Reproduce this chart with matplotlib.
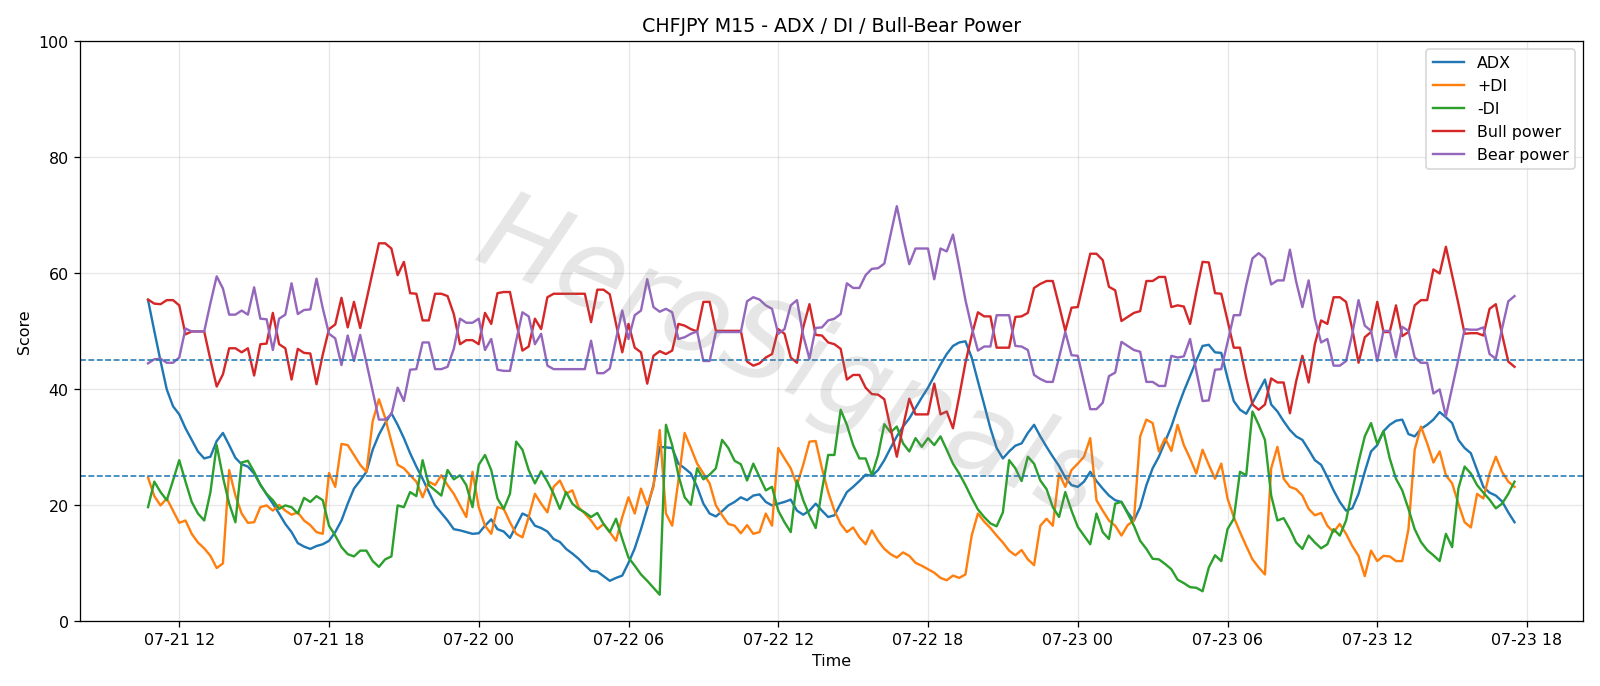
import matplotlib

matplotlib.use("Agg")
import matplotlib.dates as mdates
import matplotlib.pyplot as plt
import pandas as pd

# CHFJPY M15 bars, 07-21 10:45 -> 07-23 17:30
start_time = "2025-07-21 10:45"
n_bars = 220

adx = [
    55.4, 50.1, 44.9, 40.0, 37.1, 35.7, 33.3, 31.3, 29.3, 28.1, 28.4, 31.1, 32.5, 30.4, 28.2, 27.1, 26.7, 25.5, 23.6, 21.9,
    20.3, 18.6, 16.8, 15.4, 13.5, 12.9, 12.5, 13.0, 13.3, 13.9, 15.4, 17.4, 20.3, 22.9, 24.3, 25.8, 29.6, 32.2, 34.2, 35.9,
    33.9, 31.6, 29.0, 26.7, 24.6, 22.3, 20.0, 18.7, 17.4, 15.9, 15.7, 15.4, 15.1, 15.2, 16.5, 17.6, 15.9, 15.5, 14.4, 16.5,
    18.6, 18.1, 16.5, 16.1, 15.5, 14.2, 13.7, 12.5, 11.7, 10.8, 9.7, 8.7, 8.6, 7.8, 7.0, 7.5, 7.9, 10.1, 12.6, 15.9,
    19.5, 23.5, 30.1, 30.0, 29.9, 27.2, 26.4, 25.5, 23.2, 20.3, 18.6, 18.1, 19.0, 20.0, 20.6, 21.4, 20.9, 21.7, 21.9, 20.6,
    20.0, 20.3, 20.6, 21.0, 19.1, 18.4, 19.1, 20.3, 19.1, 18.0, 18.3, 20.3, 22.3, 23.2, 24.2, 25.3, 25.1, 26.1, 27.8, 29.9,
    31.9, 33.6, 35.0, 36.8, 38.6, 40.3, 42.3, 44.3, 46.1, 47.5, 48.1, 48.3, 45.5, 41.4, 37.4, 33.3, 29.9, 28.1, 29.3, 30.3,
    30.7, 32.5, 33.9, 31.9, 30.1, 28.4, 26.8, 24.8, 23.5, 23.2, 24.1, 25.8, 24.2, 22.9, 21.7, 20.9, 20.6, 18.8, 17.4, 19.7,
    23.5, 26.4, 28.4, 31.0, 33.6, 36.8, 39.7, 42.3, 45.0, 47.5, 47.7, 46.4, 46.3, 42.0, 38.0, 36.5, 35.8, 37.7, 39.7, 41.7,
    37.4, 36.2, 34.5, 33.0, 31.9, 31.3, 29.6, 27.8, 27.0, 24.9, 22.6, 20.6, 19.1, 19.5, 22.0, 25.8, 29.3, 30.4, 32.8, 33.9,
    34.6, 34.8, 32.3, 31.9, 33.2, 33.9, 34.8, 36.1, 35.2, 34.2, 31.3, 29.9, 29.0, 26.1, 23.2, 22.2, 21.7, 20.7, 18.8, 17.1,
]

plus_di = [
    24.8, 21.6, 20.0, 21.2, 19.1, 17.0, 17.4, 15.1, 13.6, 12.6, 11.3, 9.2, 10.0, 26.1, 21.7, 18.6, 17.0, 17.1, 19.7, 20.0,
    19.1, 20.1, 19.1, 18.4, 18.8, 17.4, 16.6, 15.4, 15.1, 25.6, 23.2, 30.6, 30.4, 28.7, 27.0, 25.8, 34.5, 38.3, 35.1, 31.0,
    27.0, 26.4, 25.2, 24.1, 21.4, 24.1, 23.5, 25.2, 23.5, 22.0, 20.0, 18.0, 25.8, 19.7, 16.5, 15.1, 19.7, 19.4, 17.1, 15.1,
    14.5, 18.0, 22.0, 20.3, 18.8, 23.2, 24.3, 22.0, 22.6, 19.7, 18.6, 17.4, 15.9, 16.8, 15.4, 13.9, 18.0, 21.4, 18.6, 22.9,
    20.0, 23.2, 33.0, 18.6, 16.5, 24.3, 32.5, 29.9, 27.2, 25.5, 23.8, 20.0, 18.3, 16.8, 16.5, 15.2, 16.6, 15.1, 15.4, 18.6,
    16.5, 29.9, 28.1, 26.4, 23.5, 27.0, 31.0, 31.1, 26.4, 22.3, 19.1, 16.8, 15.4, 16.2, 14.5, 13.3, 15.7, 13.9, 12.5, 11.6,
    11.0, 11.9, 11.3, 10.1, 9.6, 9.0, 8.4, 7.5, 7.1, 7.9, 7.5, 8.1, 14.8, 18.6, 17.2, 16.1, 14.8, 13.6, 12.2, 11.4,
    12.3, 10.7, 9.7, 16.5, 17.7, 16.5, 25.5, 23.2, 26.1, 27.2, 28.4, 31.6, 20.9, 19.1, 17.4, 16.5, 14.8, 16.6, 17.4, 31.9,
    34.8, 34.2, 29.3, 31.6, 29.4, 33.9, 30.4, 28.1, 25.5, 29.6, 27.0, 24.6, 27.2, 21.2, 18.0, 15.4, 13.0, 10.7, 9.3, 8.1,
    26.4, 30.1, 24.6, 23.2, 22.8, 21.7, 19.4, 18.3, 18.7, 16.5, 15.4, 16.8, 15.1, 13.0, 11.3, 7.8, 12.2, 10.4, 11.3, 11.2,
    10.4, 10.4, 15.9, 29.6, 33.6, 30.7, 27.4, 29.3, 25.2, 23.8, 20.3, 17.1, 16.2, 22.0, 21.2, 25.5, 28.4, 25.8, 24.1, 23.2,
]

minus_di = [
    19.7, 24.1, 22.3, 20.9, 24.3, 27.8, 24.1, 20.6, 18.6, 17.4, 22.3, 30.4, 24.9, 20.3, 17.1, 27.4, 27.7, 25.8, 23.5, 22.0,
    20.9, 19.4, 20.0, 19.7, 18.6, 21.3, 20.6, 21.6, 20.9, 16.5, 14.8, 12.8, 11.6, 11.2, 12.2, 12.2, 10.4, 9.4, 10.7, 11.2,
    20.0, 19.7, 22.3, 21.6, 27.8, 23.5, 22.6, 21.7, 26.1, 24.5, 25.2, 23.5, 19.7, 27.0, 28.7, 26.1, 21.2, 19.4, 22.0, 31.0,
    29.6, 26.1, 23.8, 25.9, 24.1, 22.0, 19.4, 22.3, 20.3, 19.4, 18.8, 18.0, 18.7, 16.8, 15.4, 17.7, 14.2, 11.0, 9.6, 8.1,
    7.0, 5.8, 4.6, 33.9, 30.4, 25.2, 21.4, 20.1, 26.4, 24.5, 25.3, 26.4, 31.3, 29.9, 27.7, 27.1, 24.3, 27.2, 24.9, 22.6,
    23.2, 19.1, 17.1, 15.4, 24.3, 20.9, 18.3, 16.1, 22.6, 28.7, 28.7, 36.5, 33.9, 30.4, 28.1, 28.1, 25.2, 28.7, 34.0, 32.6,
    33.6, 30.7, 29.3, 31.6, 30.1, 31.6, 30.4, 31.9, 29.6, 27.2, 25.5, 23.5, 21.3, 19.3, 18.0, 16.9, 16.4, 18.8, 27.8, 26.4,
    24.2, 28.4, 27.2, 24.3, 22.8, 19.7, 18.0, 22.3, 19.1, 16.3, 14.8, 13.3, 18.6, 15.4, 14.2, 20.3, 20.6, 18.6, 16.5, 13.9,
    12.5, 10.8, 10.7, 9.9, 9.0, 7.2, 6.6, 5.9, 5.8, 5.2, 9.3, 11.4, 10.4, 15.9, 17.7, 25.8, 25.2, 36.2, 33.9, 31.3,
    21.7, 17.4, 17.8, 15.9, 13.6, 12.5, 14.8, 13.6, 12.6, 13.3, 15.9, 14.8, 17.4, 22.6, 27.5, 31.9, 34.2, 30.6, 32.8, 28.1,
    24.6, 22.6, 19.4, 15.9, 13.7, 12.3, 11.4, 10.4, 15.1, 12.8, 22.9, 26.7, 25.5, 23.5, 22.2, 21.0, 19.5, 20.3, 22.0, 24.1,
]

bull_power = [
    55.5, 54.8, 54.7, 55.4, 55.4, 54.5, 49.5, 50.0, 50.0, 50.0, 45.1, 40.5, 42.6, 47.1, 47.1, 46.4, 47.1, 42.4, 47.8, 47.9,
    53.2, 47.8, 47.1, 41.7, 47.0, 46.3, 46.2, 40.9, 46.0, 50.4, 51.2, 55.8, 50.7, 55.1, 50.6, 55.4, 60.3, 65.2, 65.2, 64.3,
    59.7, 62.0, 56.6, 56.5, 51.9, 51.9, 56.5, 56.5, 56.1, 53.0, 47.8, 48.5, 48.5, 47.8, 53.2, 51.3, 56.6, 56.8, 56.8, 51.6,
    46.7, 47.4, 52.2, 50.4, 55.9, 56.5, 56.5, 56.5, 56.5, 56.5, 56.5, 51.6, 57.2, 57.2, 56.4, 51.3, 46.4, 51.3, 47.2, 46.4,
    41.0, 45.8, 46.6, 46.1, 46.7, 51.3, 51.0, 50.4, 50.0, 55.1, 55.1, 50.1, 50.1, 50.1, 50.1, 50.1, 44.8, 44.1, 44.5, 45.5,
    46.1, 50.4, 49.6, 45.5, 44.6, 50.7, 54.7, 49.4, 49.3, 48.1, 47.8, 47.0, 41.7, 42.5, 42.5, 40.3, 39.2, 39.1, 38.3, 33.3,
    28.4, 33.6, 38.4, 35.7, 35.7, 35.7, 41.0, 35.7, 36.2, 33.3, 38.8, 44.6, 49.3, 53.3, 52.6, 52.6, 47.2, 47.2, 47.2, 52.5,
    52.6, 53.2, 57.5, 58.2, 58.7, 58.7, 54.5, 50.1, 54.1, 54.2, 58.8, 63.4, 63.4, 62.3, 57.7, 57.1, 51.8, 52.5, 53.2, 53.5,
    58.7, 58.7, 59.4, 59.4, 54.2, 54.5, 54.3, 51.3, 56.8, 62.0, 61.9, 56.6, 56.5, 51.9, 47.2, 47.2, 42.0, 37.4, 36.5, 37.4,
    41.9, 41.2, 41.2, 35.9, 41.4, 45.8, 41.2, 47.8, 51.9, 51.3, 55.9, 55.9, 55.1, 50.4, 44.6, 49.0, 49.9, 55.1, 49.9, 49.9,
    54.5, 49.2, 49.9, 54.5, 55.4, 55.4, 60.7, 60.0, 64.6, 59.7, 54.8, 49.6, 49.7, 49.7, 49.3, 53.9, 54.7, 49.5, 44.8, 43.9,
]

bear_power = [
    44.5, 45.2, 45.3, 44.6, 44.6, 45.5, 50.5, 50.0, 50.0, 50.0, 54.9, 59.5, 57.4, 52.9, 52.9, 53.6, 52.9, 57.6, 52.2, 52.1,
    46.8, 52.2, 52.9, 58.3, 53.0, 53.7, 53.8, 59.1, 54.0, 49.6, 48.8, 44.2, 49.3, 44.9, 49.4, 44.6, 39.7, 34.8, 34.8, 35.7,
    40.3, 38.0, 43.4, 43.5, 48.1, 48.1, 43.5, 43.5, 43.9, 47.0, 52.2, 51.5, 51.5, 52.2, 46.8, 48.7, 43.4, 43.2, 43.2, 48.4,
    53.3, 52.6, 47.8, 49.6, 44.1, 43.5, 43.5, 43.5, 43.5, 43.5, 43.5, 48.4, 42.8, 42.8, 43.6, 48.7, 53.6, 48.7, 52.8, 53.6,
    59.0, 54.2, 53.4, 53.9, 53.3, 48.7, 49.0, 49.6, 50.0, 44.9, 44.9, 49.9, 49.9, 49.9, 49.9, 49.9, 55.2, 55.9, 55.5, 54.5,
    53.9, 49.6, 50.4, 54.5, 55.4, 49.3, 45.3, 50.6, 50.7, 51.9, 52.2, 53.0, 58.3, 57.5, 57.5, 59.7, 60.8, 60.9, 61.7, 66.7,
    71.6, 66.4, 61.6, 64.3, 64.3, 64.3, 59.0, 64.3, 63.8, 66.7, 61.2, 55.4, 50.7, 46.7, 47.4, 47.4, 52.8, 52.8, 52.8, 47.5,
    47.4, 46.8, 42.5, 41.8, 41.3, 41.3, 45.5, 49.9, 45.9, 45.8, 41.2, 36.6, 36.6, 37.7, 42.3, 42.9, 48.2, 47.5, 46.8, 46.5,
    41.3, 41.3, 40.6, 40.6, 45.8, 45.5, 45.7, 48.7, 43.2, 38.0, 38.1, 43.4, 43.5, 48.1, 52.8, 52.8, 58.0, 62.6, 63.5, 62.6,
    58.1, 58.8, 58.8, 64.1, 58.6, 54.2, 58.8, 52.2, 48.1, 48.7, 44.1, 44.1, 44.9, 49.6, 55.4, 51.0, 50.1, 44.9, 50.1, 50.1,
    45.5, 50.8, 50.1, 45.5, 44.6, 44.6, 39.3, 40.0, 35.4, 40.3, 45.2, 50.4, 50.3, 50.3, 50.7, 46.1, 45.3, 50.5, 55.2, 56.1,
]

upper_level = 45
lower_level = 25

if __name__ == "__main__":
    times = pd.date_range(start_time, periods=n_bars, freq="15min")

    fig, ax = plt.subplots(figsize=(14, 6.004), dpi=1600 / 14)
    ax.plot(times, adx, label="ADX")
    ax.plot(times, plus_di, label="+DI")
    ax.plot(times, minus_di, label="-DI")
    ax.plot(times, bull_power, label="Bull power")
    ax.plot(times, bear_power, label="Bear power")
    ax.axhline(upper_level, linestyle="--", linewidth=1)
    ax.axhline(lower_level, linestyle="--", linewidth=1)

    # watermark, thin grey script across the middle
    ax.text(
        0.472, 0.45, "HeroSignals", transform=ax.transAxes,
        fontsize=70, color="gray", alpha=0.2, rotation=-23,
        fontstyle="italic", fontweight=200, ha="center", va="center",
    )

    ax.set_ylim(0, 100)
    ax.xaxis.set_major_locator(mdates.HourLocator(byhour=[0, 6, 12, 18]))
    ax.xaxis.set_major_formatter(mdates.DateFormatter("%m-%d %H"))
    ax.grid(True, alpha=0.3)
    ax.set_title("CHFJPY M15 - ADX / DI / Bull-Bear Power")
    ax.set_xlabel("Time")
    ax.set_ylabel("Score")
    ax.legend(loc="upper right")

    fig.tight_layout()
    fig.savefig("out.png")
